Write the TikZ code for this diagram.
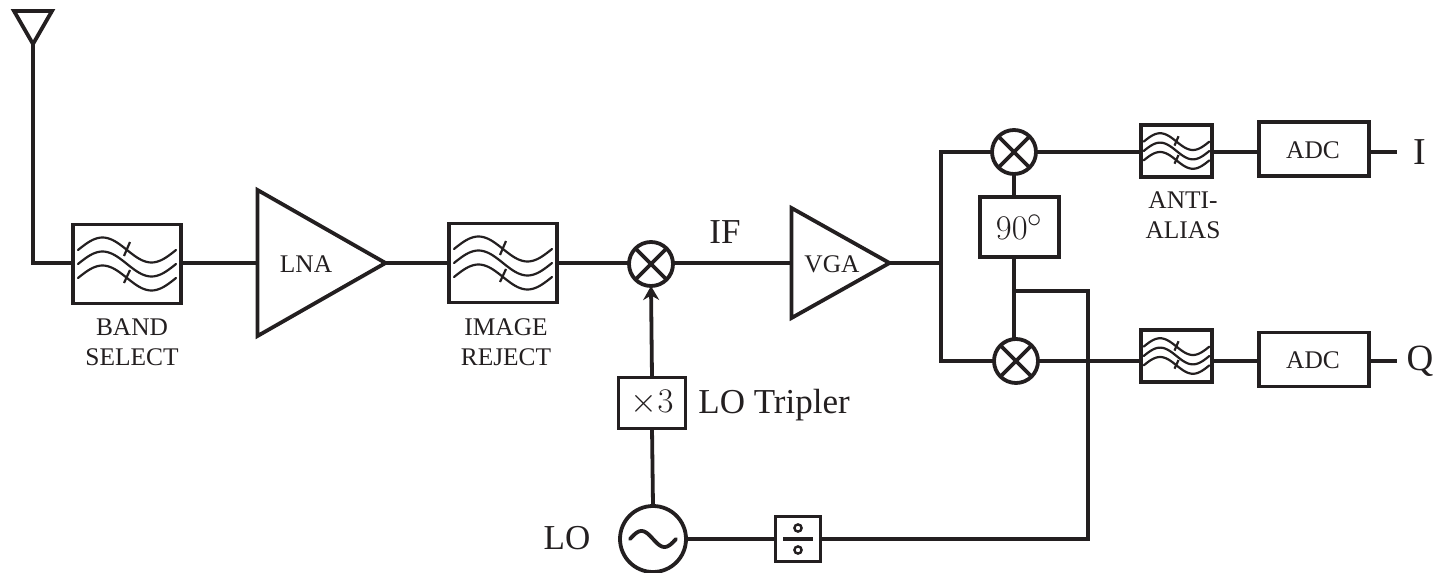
\documentclass[tikz,border=0pt]{standalone}
\usepackage[no-math]{fontspec}
\setmainfont{Liberation Serif}
\usetikzlibrary{arrows.meta,shapes.geometric}
\definecolor{ink}{HTML}{231F20}
\tikzset{
  wire/.style={line width=1.9pt,ink},
  blockbox/.style={draw=ink,line width=1.9pt,rectangle,inner sep=0pt,outer sep=0pt,text=ink},
  filterbox/.style={blockbox,minimum width=54pt,minimum height=39.5pt},
  aafilter/.style={blockbox,minimum width=35.5pt,minimum height=26pt},
  adcbox/.style={blockbox,minimum width=55pt,minimum height=27pt},
  amp/.style={draw=ink,line width=1.9pt,isosceles triangle,isosceles triangle stretches,
    inner sep=0pt,outer sep=0pt,anchor=apex},
  mixer/.style={draw=ink,line width=1.9pt,circle,minimum size=22pt,inner sep=0pt,outer sep=0pt,
    path picture={
      \draw[wire] (path picture bounding box.north west) -- (path picture bounding box.south east);
      \draw[wire] (path picture bounding box.north east) -- (path picture bounding box.south west);}},
  lbl/.style={text=ink,font=\bigtext,inner sep=0pt},
  sublbl/.style={text=ink,font=\smalltext,align=center,inner sep=0pt},
  waves/.pic={
    \foreach \yo in {-14,0,14}
      \draw[ink,line width=1.1pt,line cap=round] plot[domain=-49:49,samples=41,smooth]
        ({\x},{\yo-12.5*sin(360/98*(\x+49))});
    \draw[ink,line width=1.1pt] (3,-22) -- (-3,-8);
    \draw[ink,line width=1.1pt] (3,6) -- (-3,19);
  },
  tilde/.pic={
    \draw[ink,line width=1.9pt,line cap=round] plot[domain=-23:23,samples=31,smooth]
      ({\x},{-8*sin(360/46*(\x+23))});
  },
  divsign/.pic={
    \draw[wire] (-15,0) -- (15,0);
    \draw[ink,line width=1.2pt] (0,-11) circle (3.6);
    \draw[ink,line width=1.2pt] (0,11) circle (3.6);
  }
}
\newcommand{\smalltext}{\fontsize{12.7}{15}\selectfont}
\newcommand{\bigtext}{\fontsize{17.5}{21}\selectfont}
\begin{document}
\begin{tikzpicture}[x=0.5pt,y=-0.5pt]
\useasboundingbox (0,0) rectangle (1438,572);
% front end
\node[draw=ink,line width=1.9pt,isosceles triangle,isosceles triangle stretches,shape border rotate=-90,
  inner sep=0pt,outer sep=0pt,minimum width=19pt,minimum height=16.5pt,anchor=apex] (ant) at (33,44) {};
\node[filterbox] (bandsel) at (127,264) {};
\pic at (bandsel) {waves};
\node[amp,minimum width=73pt,minimum height=64pt] (lna) at (385.5,263) {};
\node[sublbl] (lnalbl) at (306,264) {LNA};
\node[filterbox] (imgrej) at (503,263) {};
\pic at (imgrej) {waves};
\node[mixer] (mixrf) at (651,264) {};
\node[amp,minimum width=55pt,minimum height=49pt] (vga) at (889.5,263) {};
\node[sublbl] (vgalbl) at (832,264) {VGA};
\node[sublbl] (bandlbl) at (132,342) {BAND\\SELECT};
\node[sublbl] (imglbl) at (506,342) {IMAGE\\REJECT};
\node[lbl] (iflbl) at (725,232) {IF};
% LO chain
\node[blockbox,minimum width=33.5pt,minimum height=25.5pt,font=\fontsize{18}{21}\selectfont] (trip) at (652,403) {$\times 3$};
\node[lbl,anchor=west] (triplbl) at (698,405) {LO Tripler};
\node[draw=ink,line width=1.9pt,circle,minimum size=33pt,inner sep=0pt,outer sep=0pt] (lo) at (653,539) {};
\pic at (lo) {tilde};
\node[lbl] (lolbl) at (567,538) {LO};
\node[blockbox,minimum width=22.5pt,minimum height=22.5pt] (div) at (798,539) {};
\pic at (div) {divsign};
% I/Q section
\node[mixer] (mixi) at (1014,152) {};
\node[mixer] (mixq) at (1016,361) {};
\node[blockbox,minimum width=39.5pt,minimum height=30pt,font=\fontsize{19}{21}\selectfont] (phase) at (1019.5,227) {$90^\circ$};
\node[aafilter] (aai) at (1176.5,151) {};
\pic[scale=.67] at (aai) {waves};
\node[aafilter] (aaq) at (1176.5,356) {};
\pic[scale=.67] at (aaq) {waves};
\node[adcbox] (adci) at (1314,149) {};
\node[sublbl] (adcilbl) at (1313,150) {ADC};
\node[adcbox] (adcq) at (1314,359.5) {};
\node[sublbl] (adcqlbl) at (1313,360) {ADC};
\node[sublbl] (aalbl) at (1183,215) {ANTI-\\ALIAS};
\node[lbl,font=\fontsize{19}{21}\selectfont] (ilbl) at (1420,152) {I};
\node[lbl,font=\fontsize{18.5}{21}\selectfont] (qlbl) at (1420,361) {Q};
\coordinate (split) at (941,263);
\coordinate (tap) at (1014,291);
\coordinate (turn) at (1088,291);
\coordinate (endi) at (1397,152);
\coordinate (endq) at (1397,361);
% wiring
\draw[wire] (ant.apex) |- (lna.west -| bandsel.west);
\draw[wire] (bandsel.east |- lna.west) -- (lna.west);
\draw[wire] (lna.apex) -- (imgrej.west);
\draw[wire] (imgrej.east) -- (imgrej.east -| mixrf.west);
\draw[wire] (imgrej.east -| mixrf.east) -- (vga.west);
\draw[wire,-{Stealth[length=7pt,width=8pt]}] (trip.north) -- (mixrf.south);
\draw[wire] (lo.north) -- (trip.south);
\draw[wire] (vga.apex) -- (split);
\draw[wire] (mixi.west) -| (split) |- (mixq.west);
\draw[wire] (mixi.south) -- (mixi |- phase.north);
\draw[wire] (mixi |- phase.south) -- (mixi |- mixq.north);
\draw[wire] (tap) -- (turn) |- (div.east);
\draw[wire] (lo.east) -- (div.west);
\draw[wire] (mixi.east) -- (mixi -| aai.west);
\draw[wire] (mixq.east) -- (mixq -| aaq.west);
\draw[wire] (aai.east |- mixi) -- (adci.west |- mixi);
\draw[wire] (aaq.east |- mixq) -- (adcq.west |- mixq);
\draw[wire] (adci.east |- mixi) -- (endi);
\draw[wire] (adcq.east |- mixq) -- (endq);
\end{tikzpicture}
\end{document}
